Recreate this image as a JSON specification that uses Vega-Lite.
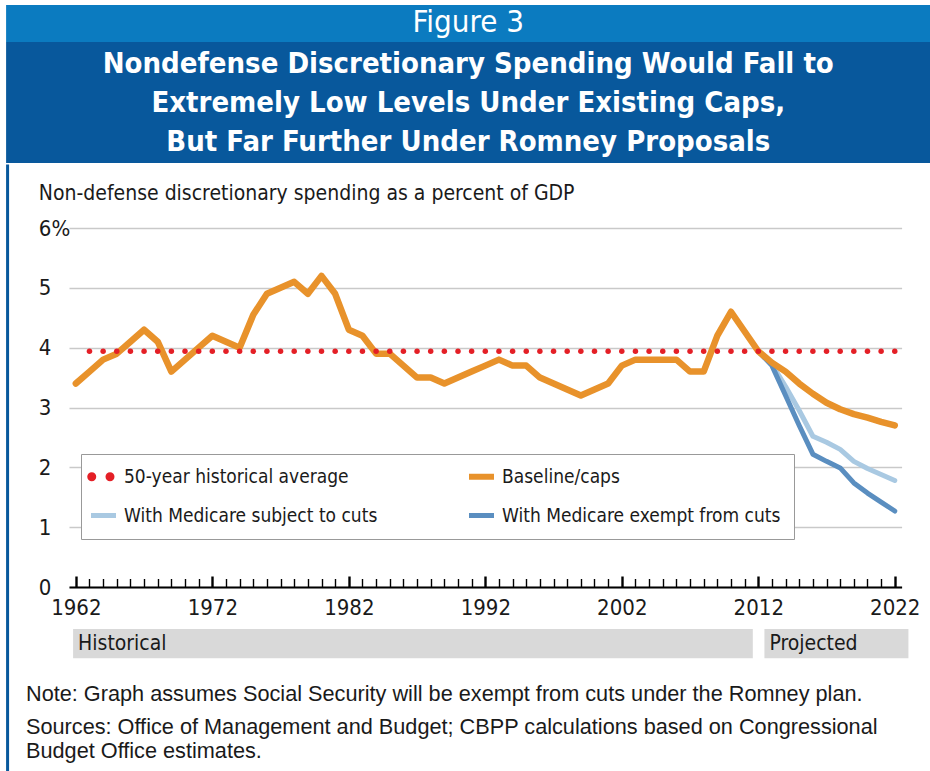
{
  "$schema": "https://vega.github.io/schema/vega-lite/v6.json",
  "padding": {"left": 5, "top": 5, "right": 0, "bottom": 0},
  "background": "white",
  "columns": 1,
  "align": "none",
  "spacing": 0,
  "config": {"view": {"stroke": null}, "concat": {"spacing": 0}, "axis": {"labelOverlap": false}},
  "resolve": {"scale": {"x": "independent", "y": "independent", "color": "independent"}},
  "datasets": {
    "series": [
      {"year": 1962, "series": "Baseline/caps", "value": 3.4},
      {"year": 1963, "series": "Baseline/caps", "value": 3.6},
      {"year": 1964, "series": "Baseline/caps", "value": 3.8},
      {"year": 1965, "series": "Baseline/caps", "value": 3.9},
      {"year": 1966, "series": "Baseline/caps", "value": 4.1},
      {"year": 1967, "series": "Baseline/caps", "value": 4.3},
      {"year": 1968, "series": "Baseline/caps", "value": 4.1},
      {"year": 1969, "series": "Baseline/caps", "value": 3.6},
      {"year": 1970, "series": "Baseline/caps", "value": 3.8},
      {"year": 1971, "series": "Baseline/caps", "value": 4.0},
      {"year": 1972, "series": "Baseline/caps", "value": 4.2},
      {"year": 1973, "series": "Baseline/caps", "value": 4.1},
      {"year": 1974, "series": "Baseline/caps", "value": 4.0},
      {"year": 1975, "series": "Baseline/caps", "value": 4.55},
      {"year": 1976, "series": "Baseline/caps", "value": 4.9},
      {"year": 1977, "series": "Baseline/caps", "value": 5.0},
      {"year": 1978, "series": "Baseline/caps", "value": 5.1},
      {"year": 1979, "series": "Baseline/caps", "value": 4.9},
      {"year": 1980, "series": "Baseline/caps", "value": 5.2},
      {"year": 1981, "series": "Baseline/caps", "value": 4.9},
      {"year": 1982, "series": "Baseline/caps", "value": 4.3},
      {"year": 1983, "series": "Baseline/caps", "value": 4.2},
      {"year": 1984, "series": "Baseline/caps", "value": 3.9},
      {"year": 1985, "series": "Baseline/caps", "value": 3.9},
      {"year": 1986, "series": "Baseline/caps", "value": 3.7},
      {"year": 1987, "series": "Baseline/caps", "value": 3.5},
      {"year": 1988, "series": "Baseline/caps", "value": 3.5},
      {"year": 1989, "series": "Baseline/caps", "value": 3.4},
      {"year": 1990, "series": "Baseline/caps", "value": 3.5},
      {"year": 1991, "series": "Baseline/caps", "value": 3.6},
      {"year": 1992, "series": "Baseline/caps", "value": 3.7},
      {"year": 1993, "series": "Baseline/caps", "value": 3.8},
      {"year": 1994, "series": "Baseline/caps", "value": 3.7},
      {"year": 1995, "series": "Baseline/caps", "value": 3.7},
      {"year": 1996, "series": "Baseline/caps", "value": 3.5},
      {"year": 1997, "series": "Baseline/caps", "value": 3.4},
      {"year": 1998, "series": "Baseline/caps", "value": 3.3},
      {"year": 1999, "series": "Baseline/caps", "value": 3.2},
      {"year": 2000, "series": "Baseline/caps", "value": 3.3},
      {"year": 2001, "series": "Baseline/caps", "value": 3.4},
      {"year": 2002, "series": "Baseline/caps", "value": 3.7},
      {"year": 2003, "series": "Baseline/caps", "value": 3.8},
      {"year": 2004, "series": "Baseline/caps", "value": 3.8},
      {"year": 2005, "series": "Baseline/caps", "value": 3.8},
      {"year": 2006, "series": "Baseline/caps", "value": 3.8},
      {"year": 2007, "series": "Baseline/caps", "value": 3.6},
      {"year": 2008, "series": "Baseline/caps", "value": 3.6},
      {"year": 2009, "series": "Baseline/caps", "value": 4.2},
      {"year": 2010, "series": "Baseline/caps", "value": 4.6},
      {"year": 2011, "series": "Baseline/caps", "value": 4.27},
      {"year": 2012, "series": "Baseline/caps", "value": 3.94},
      {"year": 2013, "series": "Baseline/caps", "value": 3.75},
      {"year": 2014, "series": "Baseline/caps", "value": 3.6},
      {"year": 2015, "series": "Baseline/caps", "value": 3.4},
      {"year": 2016, "series": "Baseline/caps", "value": 3.23},
      {"year": 2017, "series": "Baseline/caps", "value": 3.08},
      {"year": 2018, "series": "Baseline/caps", "value": 2.97},
      {"year": 2019, "series": "Baseline/caps", "value": 2.89},
      {"year": 2020, "series": "Baseline/caps", "value": 2.83},
      {"year": 2021, "series": "Baseline/caps", "value": 2.76},
      {"year": 2022, "series": "Baseline/caps", "value": 2.7},
      {"year": 2012, "series": "With Medicare subject to cuts", "value": 3.94},
      {"year": 2013, "series": "With Medicare subject to cuts", "value": 3.72},
      {"year": 2014, "series": "With Medicare subject to cuts", "value": 3.35},
      {"year": 2015, "series": "With Medicare subject to cuts", "value": 2.95},
      {"year": 2016, "series": "With Medicare subject to cuts", "value": 2.52},
      {"year": 2017, "series": "With Medicare subject to cuts", "value": 2.42},
      {"year": 2018, "series": "With Medicare subject to cuts", "value": 2.3},
      {"year": 2019, "series": "With Medicare subject to cuts", "value": 2.1},
      {"year": 2020, "series": "With Medicare subject to cuts", "value": 1.98},
      {"year": 2021, "series": "With Medicare subject to cuts", "value": 1.88},
      {"year": 2022, "series": "With Medicare subject to cuts", "value": 1.78},
      {"year": 2012, "series": "With Medicare exempt from cuts", "value": 3.94},
      {"year": 2013, "series": "With Medicare exempt from cuts", "value": 3.7},
      {"year": 2014, "series": "With Medicare exempt from cuts", "value": 3.2},
      {"year": 2015, "series": "With Medicare exempt from cuts", "value": 2.7},
      {"year": 2016, "series": "With Medicare exempt from cuts", "value": 2.22},
      {"year": 2017, "series": "With Medicare exempt from cuts", "value": 2.1},
      {"year": 2018, "series": "With Medicare exempt from cuts", "value": 1.99},
      {"year": 2019, "series": "With Medicare exempt from cuts", "value": 1.74},
      {"year": 2020, "series": "With Medicare exempt from cuts", "value": 1.57},
      {"year": 2021, "series": "With Medicare exempt from cuts", "value": 1.42},
      {"year": 2022, "series": "With Medicare exempt from cuts", "value": 1.27},
      {"year": 1963, "series": "50-year historical average", "value": 3.94},
      {"year": 1964, "series": "50-year historical average", "value": 3.94},
      {"year": 1965, "series": "50-year historical average", "value": 3.94},
      {"year": 1966, "series": "50-year historical average", "value": 3.94},
      {"year": 1967, "series": "50-year historical average", "value": 3.94},
      {"year": 1968, "series": "50-year historical average", "value": 3.94},
      {"year": 1969, "series": "50-year historical average", "value": 3.94},
      {"year": 1970, "series": "50-year historical average", "value": 3.94},
      {"year": 1971, "series": "50-year historical average", "value": 3.94},
      {"year": 1972, "series": "50-year historical average", "value": 3.94},
      {"year": 1973, "series": "50-year historical average", "value": 3.94},
      {"year": 1974, "series": "50-year historical average", "value": 3.94},
      {"year": 1975, "series": "50-year historical average", "value": 3.94},
      {"year": 1976, "series": "50-year historical average", "value": 3.94},
      {"year": 1977, "series": "50-year historical average", "value": 3.94},
      {"year": 1978, "series": "50-year historical average", "value": 3.94},
      {"year": 1979, "series": "50-year historical average", "value": 3.94},
      {"year": 1980, "series": "50-year historical average", "value": 3.94},
      {"year": 1981, "series": "50-year historical average", "value": 3.94},
      {"year": 1982, "series": "50-year historical average", "value": 3.94},
      {"year": 1983, "series": "50-year historical average", "value": 3.94},
      {"year": 1984, "series": "50-year historical average", "value": 3.94},
      {"year": 1985, "series": "50-year historical average", "value": 3.94},
      {"year": 1986, "series": "50-year historical average", "value": 3.94},
      {"year": 1987, "series": "50-year historical average", "value": 3.94},
      {"year": 1988, "series": "50-year historical average", "value": 3.94},
      {"year": 1989, "series": "50-year historical average", "value": 3.94},
      {"year": 1990, "series": "50-year historical average", "value": 3.94},
      {"year": 1991, "series": "50-year historical average", "value": 3.94},
      {"year": 1992, "series": "50-year historical average", "value": 3.94},
      {"year": 1993, "series": "50-year historical average", "value": 3.94},
      {"year": 1994, "series": "50-year historical average", "value": 3.94},
      {"year": 1995, "series": "50-year historical average", "value": 3.94},
      {"year": 1996, "series": "50-year historical average", "value": 3.94},
      {"year": 1997, "series": "50-year historical average", "value": 3.94},
      {"year": 1998, "series": "50-year historical average", "value": 3.94},
      {"year": 1999, "series": "50-year historical average", "value": 3.94},
      {"year": 2000, "series": "50-year historical average", "value": 3.94},
      {"year": 2001, "series": "50-year historical average", "value": 3.94},
      {"year": 2002, "series": "50-year historical average", "value": 3.94},
      {"year": 2003, "series": "50-year historical average", "value": 3.94},
      {"year": 2004, "series": "50-year historical average", "value": 3.94},
      {"year": 2005, "series": "50-year historical average", "value": 3.94},
      {"year": 2006, "series": "50-year historical average", "value": 3.94},
      {"year": 2007, "series": "50-year historical average", "value": 3.94},
      {"year": 2008, "series": "50-year historical average", "value": 3.94},
      {"year": 2009, "series": "50-year historical average", "value": 3.94},
      {"year": 2010, "series": "50-year historical average", "value": 3.94},
      {"year": 2011, "series": "50-year historical average", "value": 3.94},
      {"year": 2012, "series": "50-year historical average", "value": 3.94},
      {"year": 2013, "series": "50-year historical average", "value": 3.94},
      {"year": 2014, "series": "50-year historical average", "value": 3.94},
      {"year": 2015, "series": "50-year historical average", "value": 3.94},
      {"year": 2016, "series": "50-year historical average", "value": 3.94},
      {"year": 2017, "series": "50-year historical average", "value": 3.94},
      {"year": 2018, "series": "50-year historical average", "value": 3.94},
      {"year": 2019, "series": "50-year historical average", "value": 3.94},
      {"year": 2020, "series": "50-year historical average", "value": 3.94},
      {"year": 2021, "series": "50-year historical average", "value": 3.94},
      {"year": 2022, "series": "50-year historical average", "value": 3.94}
    ],
    "periods": [
      {"label": "Historical", "year": 1961.8, "end": 2011.6},
      {"label": "Projected", "year": 2012.45, "end": 2023.0}
    ]
  },
  "concat": [
    {
      "width": 862,
      "height": 37,
      "data": {"values": [{"t": "Figure 3"}]},
      "layer": [
        {
          "mark": {"type": "rect", "color": "#0b7bc0"},
          "encoding": {
            "x": {"datum": -0.07297, "type": "quantitative", "scale": {"domain": [0, 1], "nice": false, "zero": false}, "axis": null},
            "x2": {"datum": 1},
            "y": {"datum": 0, "type": "quantitative", "scale": {"domain": [0, 1], "nice": false, "zero": false}, "axis": null},
            "y2": {"datum": 1}
          }
        },
        {
          "mark": {"type": "text", "color": "white", "font": "DejaVu Sans Condensed, sans-serif", "fontSize": 31, "baseline": "middle", "align": "center"},
          "encoding": {
            "text": {"field": "t", "type": "nominal"},
            "x": {"datum": 0.4632, "type": "quantitative"},
            "y": {"datum": 0.52, "type": "quantitative"}
          }
        }
      ]
    },
    {
      "width": 862,
      "height": 121,
      "data": {"values": [{"t": "Nondefense Discretionary Spending Would Fall to|Extremely Low Levels Under Existing Caps,|But Far Further Under Romney Proposals"}]},
      "layer": [
        {
          "mark": {"type": "rect", "color": "#08589c"},
          "encoding": {
            "x": {"datum": -0.07297, "type": "quantitative", "scale": {"domain": [0, 1], "nice": false, "zero": false}, "axis": null},
            "x2": {"datum": 1},
            "y": {"datum": 0, "type": "quantitative", "scale": {"domain": [0, 1], "nice": false, "zero": false}, "axis": null},
            "y2": {"datum": 1}
          }
        },
        {
          "mark": {"type": "text", "color": "white", "font": "DejaVu Sans Condensed, sans-serif", "fontWeight": "bold", "fontSize": 29, "lineHeight": 39, "lineBreak": "|", "baseline": "middle", "align": "center"},
          "encoding": {
            "text": {"field": "t", "type": "nominal"},
            "x": {"datum": 0.4632, "type": "quantitative"},
            "y": {"datum": 0.82, "type": "quantitative"}
          }
        }
      ]
    },
    {
      "width": 832.6,
      "height": 359,
      "title": {
        "text": "Note: Graph assumes Social Security will be exempt from cuts under the Romney plan.",
        "subtitle": ["Sources: Office of Management and Budget; CBPP calculations based on Congressional", "Budget Office estimates."],
        "orient": "bottom", "anchor": "start", "frame": "group", "offset": -97, "dx": -43,
        "font": "Liberation Sans, sans-serif", "fontSize": 21.7, "fontWeight": "normal", "color": "#1a1a1a",
        "subtitleFont": "Liberation Sans, sans-serif", "subtitleFontSize": 21.7, "subtitleColor": "#1a1a1a", "subtitleLineHeight": 24, "subtitlePadding": 12
      },
      "resolve": {"axis": {"x": "independent"}},
      "layer": [
        {
          "data": {"values": [{"edge": "left"}]},
          "mark": {"type": "rule", "color": "#08589c", "strokeWidth": 3, "strokeCap": "square"},
          "encoding": {
            "x": {"datum": 1957.0, "type": "quantitative", "axis": null},
            "y": {"datum": 7.037, "type": "quantitative"},
            "y2": {"datum": -3.2}
          }
        },
        {
          "data": {"name": "periods"},
          "mark": {"type": "rect", "color": "#d9d9d9"},
          "encoding": {
            "x": {"field": "year", "type": "quantitative", "axis": null},
            "x2": {"field": "end"},
            "y": {"datum": -0.70, "type": "quantitative"},
            "y2": {"datum": -1.19}
          }
        },
        {
          "data": {"name": "periods"},
          "mark": {"type": "text", "align": "left", "baseline": "middle", "dx": 5, "font": "DejaVu Sans Condensed, sans-serif", "fontSize": 21, "color": "#1a1a1a"},
          "encoding": {
            "x": {"field": "year", "type": "quantitative", "axis": null},
            "y": {"datum": -0.945, "type": "quantitative"},
            "text": {"field": "label", "type": "nominal"}
          }
        },
        {
          "data": {"name": "series"},
          "transform": [{"filter": "datum.series === 'With Medicare subject to cuts'"}],
          "mark": {"type": "line", "strokeWidth": 5, "strokeCap": "round", "strokeJoin": "round"},
          "encoding": {
            "x": {
              "field": "year", "type": "quantitative",
              "scale": {"domain": [1961.5, 2022.5], "nice": false, "zero": false},
              "axis": {
                "orient": "bottom",
                "values": [1962, 1972, 1982, 1992, 2002, 2012, 2022],
                "format": "d",
                "domainColor": "#000000", "domainWidth": 2,
                "tickColor": "#000000", "tickSize": -11, "tickWidth": 2.4,
                "labelFont": "DejaVu Sans Condensed, sans-serif",
                "labelFontSize": 22, "labelColor": "#1a1a1a", "labelPadding": 21.5, "labelBaseline": "top",
                "labelOverlap": false, "labelFlush": false, "grid": false, "title": null, "zindex": 2
              }
            },
            "y": {
              "field": "value", "type": "quantitative",
              "scale": {"domain": [0, 6], "nice": false, "zero": false},
              "axis": {
                "values": [0, 0.5, 1, 1.5, 2, 2.5, 3, 3.5, 4, 4.5, 5, 5.5, 6],
                "format": "d",
                "labelExpr": "datum.value === 6 ? '6%' : (datum.value % 1 === 0 ? datum.label : '')",
                "grid": true, "gridColor": "#c9c9c9", "gridWidth": 1.5,
                "domain": false, "ticks": false, "tickSize": 0,
                "labelAlign": "left", "labelBaseline": "middle", "labelPadding": 30.7,
                "labelFont": "DejaVu Sans Condensed, sans-serif",
                "labelFontSize": 22, "labelColor": "#1a1a1a",
                "title": "Non-defense discretionary spending as a percent of GDP",
                "titleAngle": 0, "titleAlign": "left", "titleBaseline": "alphabetic",
                "titleX": -30.7, "titleY": -29,
                "titleFont": "DejaVu Sans Condensed, sans-serif",
                "titleFontSize": 21, "titleFontWeight": "normal", "titleColor": "#1a1a1a"
              }
            },
            "color": {
              "field": "series", "type": "nominal",
              "scale": {
                "domain": ["50-year historical average", "Baseline/caps", "With Medicare subject to cuts", "With Medicare exempt from cuts"],
                "range": ["#e41f26", "#e8922b", "#a9c9e2", "#5a8ec0"]
              },
              "legend": {
                "orient": "none", "legendX": 12, "legendY": 226,
                "direction": "horizontal", "columns": 2, "title": null,
                "padding": 13, "strokeColor": "#999999", "fillColor": "white",
                "symbolType": "stroke", "symbolSize": 625, "symbolStrokeWidth": 5,
                "labelFont": "DejaVu Sans Condensed, sans-serif",
                "labelFontSize": 19, "labelColor": "#1a1a1a", "labelOffset": 11, "labelLimit": 500,
                "rowPadding": 16, "columnPadding": 79,
                "encode": {
                  "symbols": {
                    "update": {
                      "shape": {"signal": "datum.value === '50-year historical average' ? 'M-1.1,0A0.16,0.16 0 1,0 -0.78,0A0.16,0.16 0 1,0 -1.1,0ZM0.36,0A0.16,0.16 0 1,0 0.68,0A0.16,0.16 0 1,0 0.36,0Z' : 'stroke'"},
                      "fill": {"signal": "datum.value === '50-year historical average' ? '#e41f26' : 'transparent'"},
                      "stroke": {"signal": "datum.value === '50-year historical average' ? 'transparent' : datum.value === 'Baseline/caps' ? '#e8922b' : datum.value === 'With Medicare subject to cuts' ? '#a9c9e2' : '#5a8ec0'"},
                      "strokeWidth": {"signal": "datum.value === 'Baseline/caps' ? 6 : 5"},
                      "opacity": {"value": 1}
                    }
                  }
                }
              }
            }
          }
        },
        {
          "data": {"name": "series"},
          "transform": [{"filter": "datum.series === 'With Medicare exempt from cuts'"}],
          "mark": {"type": "line", "strokeWidth": 5, "strokeCap": "round", "strokeJoin": "round"},
          "encoding": {
            "x": {
              "field": "year", "type": "quantitative",
              "axis": {
                "orient": "bottom",
                "values": [1963,1964,1965,1966,1967,1968,1969,1970,1971,1973,1974,1975,1976,1977,1978,1979,1980,1981,1983,1984,1985,1986,1987,1988,1989,1990,1991,1993,1994,1995,1996,1997,1998,1999,2000,2001,2003,2004,2005,2006,2007,2008,2009,2010,2011,2013,2014,2015,2016,2017,2018,2019,2020,2021],
                "labels": false, "domain": false, "grid": false, "title": null,
                "tickColor": "#000000", "tickSize": -8.5, "tickWidth": 1.4, "zindex": 1
              }
            },
            "y": {"field": "value", "type": "quantitative"},
            "color": {"field": "series", "type": "nominal"}
          }
        },
        {
          "data": {"name": "series"},
          "transform": [{"filter": "datum.series === 'Baseline/caps'"}],
          "mark": {"type": "line", "strokeWidth": 6.5, "strokeCap": "round", "strokeJoin": "round"},
          "encoding": {
            "x": {"field": "year", "type": "quantitative", "axis": null},
            "y": {"field": "value", "type": "quantitative"},
            "color": {"field": "series", "type": "nominal"}
          }
        },
        {
          "data": {"name": "series"},
          "transform": [{"filter": "datum.series === '50-year historical average'"}],
          "mark": {"type": "circle", "size": 30, "opacity": 1},
          "encoding": {
            "x": {"field": "year", "type": "quantitative", "axis": null},
            "y": {"field": "value", "type": "quantitative"},
            "color": {"field": "series", "type": "nominal"}
          }
        }
      ]
    }
  ]
}
